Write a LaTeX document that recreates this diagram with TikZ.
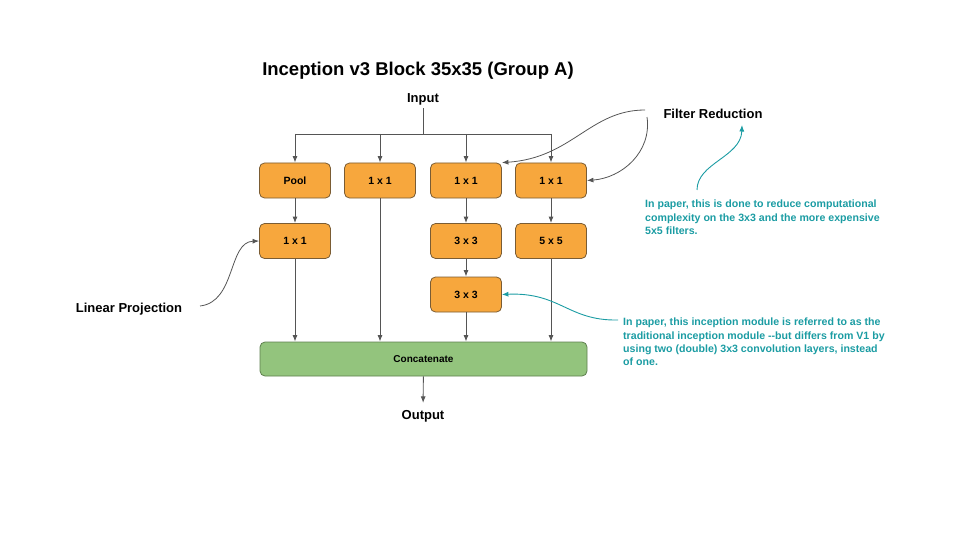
\documentclass[tikz,border=0pt]{standalone}
\usepackage{fontspec}
\setmainfont{Liberation Sans}
\usetikzlibrary{arrows.meta}

\definecolor{boxorange}{HTML}{F7A73D}
\definecolor{boxedge}{HTML}{7A5C34}
\definecolor{concatgreen}{HTML}{93C47D}
\definecolor{concatedge}{HTML}{5E7F4E}
\definecolor{wiregray}{HTML}{555555}
\definecolor{noteteal}{HTML}{1B9CA3}

\begin{document}
\begin{tikzpicture}[x=1pt,y=-1pt,
    layer/.style={draw=boxedge, fill=boxorange, rounded corners=5pt, line width=0.8pt,
      minimum width=71pt, minimum height=35pt, font=\fontsize{10.5}{12}\selectfont\bfseries},
    merge/.style={draw=concatedge, fill=concatgreen, rounded corners=5pt, line width=0.8pt,
      minimum width=327pt, minimum height=34pt, font=\fontsize{10}{12}\selectfont\bfseries},
    heading/.style={font=\fontsize{13}{15}\selectfont\bfseries},
    note/.style={text=noteteal, anchor=north west, align=left, inner sep=0pt,
      font=\fontsize{10.6}{13.3}\selectfont\bfseries},
    flow/.style={draw=wiregray, line width=0.9pt, -{Latex[length=6.5pt,width=5pt]}},
    wire/.style={draw=wiregray, line width=0.9pt},
    hint/.style={draw=wiregray, line width=0.8pt, -{Latex[length=6.5pt,width=5pt]}},
    tealhint/.style={draw=noteteal, line width=0.9pt, -{Latex[length=6.5pt,width=5pt]}}]
  \useasboundingbox (0,0) rectangle (960,540);

  % title, input and output
  \node[font=\fontsize{18.5}{20}\selectfont\bfseries] (title) at (418,71) {Inception v3 Block 35x35 (Group A)};
  \node[heading, inner sep=3pt] (input) at (423,99) {Input};
  \node[heading, inner sep=7pt] (output) at (423,416) {Output};

  % branches
  \node[layer] (pool) at (295,180.5) {Pool};
  \node[layer] (oneA) at (380,180.5) {1 x 1};
  \node[layer] (oneB) at (466,180.5) {1 x 1};
  \node[layer] (oneC) at (551,180.5) {1 x 1};
  \node[layer] (proj) at (295,241) {1 x 1};
  \node[layer] (threeA) at (466,241) {3 x 3};
  \node[layer] (five) at (551,241) {5 x 5};
  \node[layer] (threeB) at (466,294.5) {3 x 3};
  \node[merge] (concat) at (423.5,359) {Concatenate};

  % split from the input
  \coordinate (split) at (423,134);
  \draw[wire] (input.south) -- (split);
  \draw[wire] (split -| pool) -- (split -| oneC);
  \draw[flow] (split -| pool) -- (pool.north);
  \draw[flow] (split -| oneA) -- (oneA.north);
  \draw[flow] (split -| oneB) -- (oneB.north);
  \draw[flow] (split -| oneC) -- (oneC.north);

  % inside the branches
  \draw[flow] (pool) -- (proj);
  \draw[flow] (oneB) -- (threeA);
  \draw[flow] (threeA) -- (threeB);
  \draw[flow] (oneC) -- (five);

  % into concatenate
  \draw[flow] (proj) -- (proj |- concat.north);
  \draw[flow] (oneA) -- (oneA |- concat.north);
  \draw[flow] (threeB) -- (threeB |- concat.north);
  \draw[flow] (five) -- (five |- concat.north);
  \draw[flow] (concat) -- (output);

  % side labels
  \node[heading] (filter) at (713,114) {Filter Reduction};
  \node[heading] (linear) at (129,309) {Linear Projection};
  \coordinate (fa) at (645,110);
  \coordinate (fb) at (647,117);
  \coordinate (la) at (200,306);
  \draw[hint] (fa) .. controls (590,110) and (572,158) .. (oneB.north east);
  \draw[hint] (fb) .. controls (652,152) and (622,178) .. (oneC.east);
  \draw[hint] (la) .. controls (236,302) and (228,242) .. (proj.west);

  % notes
  \node[note] (noteA) at (645,200) {In paper, this is done to reduce computational\\complexity on the 3x3 and the more expensive\\5x5 filters.};
  \node[note] (noteB) at (623,318) {In paper, this inception module is referred to as the\\traditional inception module -{}-but differs from V1 by\\using two (double) 3x3 convolution layers, instead\\of one.};
  \coordinate (ta) at (697,190);
  \coordinate (ta2) at (742,125);
  \coordinate (tb) at (618,320);
  \draw[tealhint] (ta) .. controls (697,163) and (741,157) .. (ta2);
  \draw[tealhint] (tb) .. controls (568,321) and (560,292) .. (threeB.east);
\end{tikzpicture}
\end{document}
